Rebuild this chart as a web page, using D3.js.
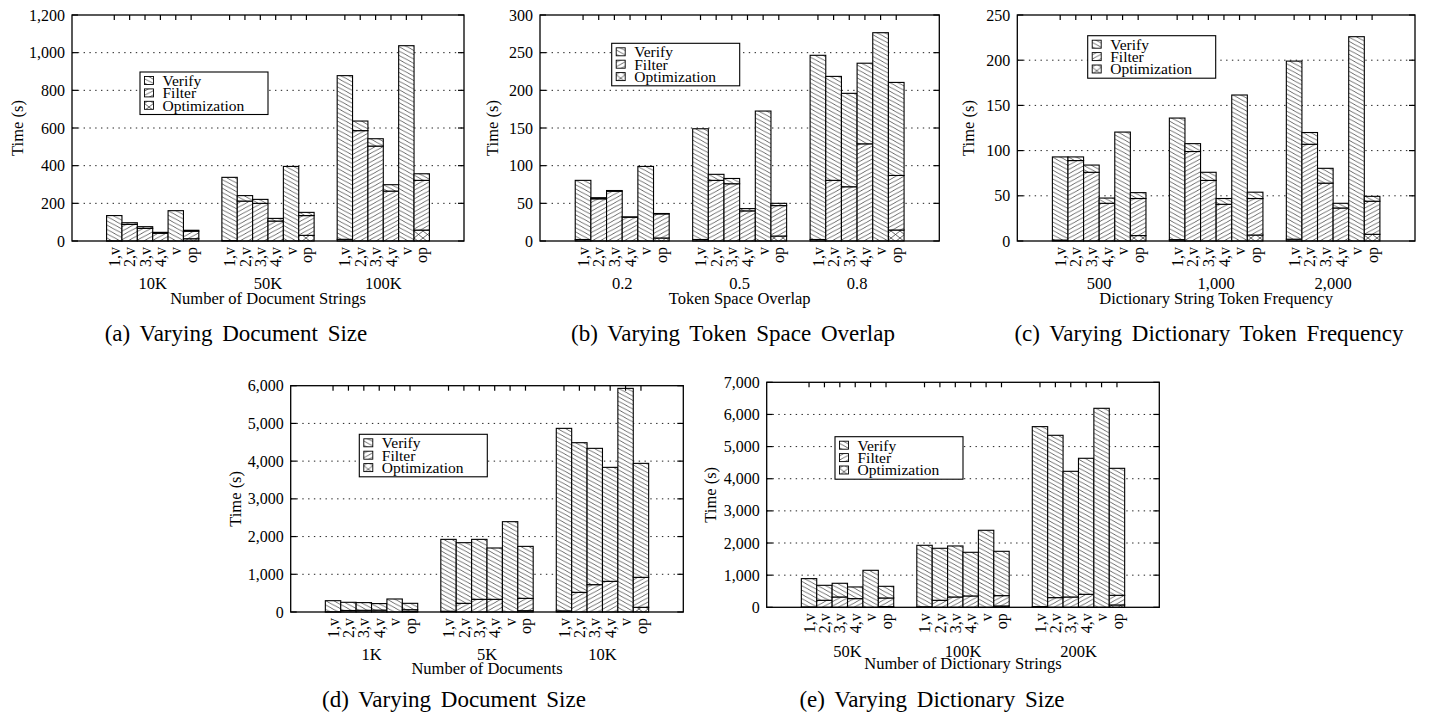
<!DOCTYPE html>
<html><head><meta charset="utf-8">
<script src="https://cdn.jsdelivr.net/npm/d3@7"></script>
<style>
body{margin:0;background:#fff}
text{font-family:"Liberation Serif","Times New Roman",serif;fill:#000}
</style>
</head><body>
<svg id="chart" width="1429" height="713"></svg>
<script>
// ---------------- data ----------------
const barLabels = ["1,v","2,v","3,v","4,v","v","op"];
const seriesNames = ["Verify","Filter","Optimization"];

// (a) Varying Document Size
const aGroups = ["10K","50K","100K"];
const aOpt    = [0,0,0,0,0,12,   0,0,0,0,0,30,   0,0,0,0,0,58];
const aFilter = [1,88,67,41,0,40, 2,212,200,106,0,105, 9,586,504,265,0,264];
const aVerify = [134,9,9,5,161,5, 336,29,21,14,396,17, 869,51,39,34,1037,35];

// (b) Varying Token Space Overlap
const bGroups = ["0.2","0.5","0.8"];
const bOpt    = [0,0,0,0,0,4,     0,0,0,0,0,6.6,      0,0,0,0,0,14.6];
const bFilter = [2,56,66,31.5,0,32, 2,80.5,76,40,0,40.4, 2,80.5,72,129,0,72.4];
const bVerify = [78.5,1.5,1,0.5,99,0.5, 147,8,7,3,172.5,3, 244.5,138,124,107,276.5,123.5];

// (c) Varying Dictionary Token Frequency
const cGroups = ["500","1,000","2,000"];
const cOpt    = [0,0,0,0,0,6,      0,0,0,0,0,6.6,       0,0,0,0,0,7.4];
const cFilter = [1,89,76,41.7,0,41, 1.5,99,67,40.6,0,40.4, 2,107,64,36.5,0,36.6];
const cVerify = [92,4,8,5.8,120.5,6.5, 134.5,8.7,9,6.4,161.5,7, 197,13,16.4,5.2,226,5.4];

// (d) Varying Document Size
const dGroups = ["1K","5K","10K"];
const dOpt    = [0,0,0,0,0,10,     0,0,0,0,0,35,       0,0,0,0,0,124];
const dFilter = [5,40,45,50,0,50,  20,230,336,336,0,327, 30,521,725,813,0,795];
const dVerify = [295,217,204,173,345,170, 1906,1608,1590,1361,2395,1378, 4839,3968,3614,3022,5929,3022];

// (e) Varying Dictionary Size
const eGroups = ["50K","100K","200K"];
const eOpt    = [0,0,0,0,0,20,     0,0,0,0,0,41,       0,0,0,0,0,73];
const eFilter = [10,218,321,270,0,270, 15,218,321,353,0,322, 20,301,321,404,0,300];
const eVerify = [882,466,426,363,1151,363, 1914,1618,1587,1358,2396,1379, 5601,5050,3910,4232,6191,3951];

const panels = [
  {groups:aGroups, opt:aOpt, filter:aFilter, verify:aVerify, yMax:1200, yStep:200,
   xTitle:"Number of Document Strings", caption:"(a) Varying Document Size",
   box:[72,15,464,241], yTitleX:17, legend:[140,72], groupY:289, titleY:304, cap:[236,341]},
  {groups:bGroups, opt:bOpt, filter:bFilter, verify:bVerify, yMax:300, yStep:50,
   xTitle:"Token Space Overlap", caption:"(b) Varying Token Space Overlap",
   box:[540,15,939.3,241], yTitleX:492, legend:[611.7,43.3], groupY:289, titleY:304, cap:[733,341]},
  {groups:cGroups, opt:cOpt, filter:cFilter, verify:cVerify, yMax:250, yStep:50,
   xTitle:"Dictionary String Token Frequency", caption:"(c) Varying Dictionary Token Frequency",
   box:[1017.3,15,1415,241], yTitleX:968, legend:[1087.7,35.7], groupY:289, titleY:304, cap:[1209,341]},
  {groups:dGroups, opt:dOpt, filter:dFilter, verify:dVerify, yMax:6000, yStep:1000,
   xTitle:"Number of Documents", caption:"(d) Varying Document Size",
   box:[290.7,385.7,683.3,612], yTitleX:235.7, legend:[359.3,434.3], groupY:660, titleY:674, cap:[454,706.5]},
  {groups:eGroups, opt:eOpt, filter:eFilter, verify:eVerify, yMax:7000, yStep:1000,
   xTitle:"Number of Dictionary Strings", caption:"(e) Varying Dictionary Size",
   box:[766.7,382.3,1159.3,607.3], yTitleX:710.7, legend:[835,436.7], groupY:657, titleY:668.5, cap:[932,706.5]}
];

// ---------------- drawing ----------------
const svg = d3.select("#chart");
svg.append("rect").attr("width",1429).attr("height",713).attr("fill","#fff");
const defs = svg.append("defs");
const hatchColor = "#3a3a3a", hatchW = 0.75;

function hatch(id, W, H, dirs){
  const p = defs.append("pattern").attr("id",id).attr("patternUnits","userSpaceOnUse")
    .attr("width",W).attr("height",H);
  p.append("rect").attr("width",W).attr("height",H).attr("fill","#fff");
  dirs.forEach(dir=>{
    for(let k=-1;k<=1;k++){
      let x1=-W*0.5, x2=W*1.5;
      let y1, y2;
      if(dir>0){ y1 = (H/W)*x1 + k*H; y2 = (H/W)*x2 + k*H; }
      else { y1 = H-(H/W)*x1 + k*H; y2 = H-(H/W)*x2 + k*H; }
      p.append("line").attr("x1",x1).attr("y1",y1).attr("x2",x2).attr("y2",y2)
        .attr("stroke",hatchColor).attr("stroke-width",hatchW);
    }
  });
}
hatch("pVerify", 8, 4.3, [1]);     // "\"
hatch("pFilter", 8, 4.3, [-1]);    // "/"
hatch("pOpt", 9, 7, [1,-1]);       // crosshatch
const fills = {Verify:"url(#pVerify)", Filter:"url(#pFilter)", Optimization:"url(#pOpt)"};

panels.forEach(P=>{
  const [L,T,R,B] = P.box;
  const g = svg.append("g");
  const x = d3.scaleLinear().domain([-0.7,2.7]).range([L,R]);
  const y = d3.scaleLinear().domain([0,P.yMax]).range([B,T]);
  const bw = (x(1)-x(0))/7.5;
  const ticks = d3.range(0, P.yMax+P.yStep/2, P.yStep);

  // grid
  g.selectAll(".grid").data(ticks.filter(t=>t>0 && t<P.yMax)).join("line")
    .attr("x1",L).attr("x2",R).attr("y1",d=>y(d)).attr("y2",d=>y(d))
    .attr("stroke","#222").attr("stroke-width",1).attr("stroke-dasharray","1.4,4.4");

  // bars
  const bars = [];
  P.groups.forEach((grp,gi)=>{
    barLabels.forEach((lab,bi)=>{
      const i = gi*6+bi;
      bars.push({cx: x(gi)+(bi-2.5)*bw, lab, o:P.opt[i], f:P.filter[i], v:P.verify[i]});
    });
  });
  bars.forEach(b=>{
    const segs = [["Optimization",0,b.o],["Filter",b.o,b.o+b.f],["Verify",b.o+b.f,b.o+b.f+b.v]];
    segs.forEach(([name,a0,a1])=>{
      if(a1-a0<=0) return;
      g.append("rect").attr("x",b.cx-bw/2).attr("width",bw)
        .attr("y",y(a1)).attr("height",y(a0)-y(a1))
        .attr("fill",fills[name]).attr("stroke","#000").attr("stroke-width",1.1);
    });
  });

  // frame
  g.append("rect").attr("x",L).attr("y",T).attr("width",R-L).attr("height",B-T)
    .attr("fill","none").attr("stroke","#000").attr("stroke-width",1.3);

  // y ticks (left & mirrored right)
  ticks.forEach(t=>{
    g.append("line").attr("x1",L).attr("x2",L+6).attr("y1",y(t)).attr("y2",y(t)).attr("stroke","#000").attr("stroke-width",1.2);
    g.append("line").attr("x1",R-6).attr("x2",R).attr("y1",y(t)).attr("y2",y(t)).attr("stroke","#000").attr("stroke-width",1.2);
  });
  // top mirrored x ticks
  bars.forEach(b=>{
    g.append("line").attr("x1",b.cx).attr("x2",b.cx).attr("y1",T).attr("y2",T+5).attr("stroke","#000").attr("stroke-width",1.2);
  });

  // y axis labels via d3 axis
  const ya = g.append("g").attr("transform",`translate(${L},0)`)
    .call(d3.axisLeft(y).tickValues(ticks).tickFormat(d3.format(",")).tickSize(0).tickPadding(7));
  ya.select(".domain").remove();
  ya.selectAll("text").attr("font-size","16px").attr("font-family",null).style("font-family",'"Liberation Serif",serif').attr("fill","#000");

  // x tick labels rotated
  bars.forEach(b=>{
    g.append("text").attr("transform",`translate(${b.cx},${B+6}) rotate(-90)`)
      .attr("text-anchor","end").attr("dy","0.35em").attr("font-size","16px").text(b.lab);
  });
  // group labels
  P.groups.forEach((grp,gi)=>{
    g.append("text").attr("x",x(gi)).attr("y",P.groupY).attr("text-anchor","middle")
      .attr("font-size","16.5px").text(grp);
  });
  // x title
  g.append("text").attr("x",(L+R)/2).attr("y",P.titleY).attr("text-anchor","middle")
    .attr("font-size","16.5px").text(P.xTitle);
  // y title
  g.append("text").attr("transform",`translate(${P.yTitleX},${(T+B)/2}) rotate(-90)`)
    .attr("text-anchor","middle").attr("dy","0.35em").attr("font-size","16.5px").text("Time (s)");

  // legend
  const [lx,ly] = P.legend;
  const lg = g.append("g").attr("transform",`translate(${lx},${ly})`);
  lg.append("rect").attr("width",128).attr("height",42.5).attr("fill","#fff").attr("stroke","#000").attr("stroke-width",1.1);
  seriesNames.forEach((s,i)=>{
    const cy = 8.5 + i*12.4;
    lg.append("rect").attr("x",4.5).attr("y",cy-4).attr("width",9).attr("height",8)
      .attr("fill",fills[s]).attr("stroke","#000").attr("stroke-width",0.9);
    lg.append("text").attr("x",22.5).attr("y",cy).attr("dy","0.35em").attr("font-size","15.5px").text(s);
  });

  // caption
  svg.append("text").attr("x",P.cap[0]).attr("y",P.cap[1]).attr("text-anchor","middle")
    .attr("font-size","23px").style("word-spacing","4px").text(P.caption);
});
</script>
</body></html>
